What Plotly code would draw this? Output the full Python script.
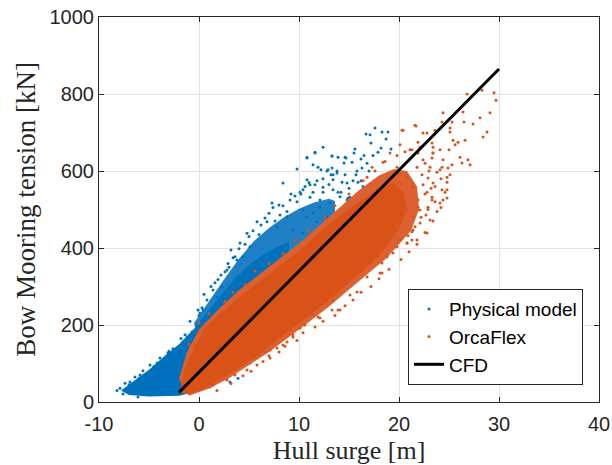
import plotly.graph_objects as go

# ---------------- data ----------------
# Physical model cloud: outline of the speckled (medium density) zone
phys_mid_x = [-0.5, 1.0, 2.5, 4.0, 5.5, 7.0, 8.5, 10.0, 11.5, 13.0, 13.6, 13.6, 10.0, 5.0, 0.0]
phys_mid_y = [205, 262, 318, 372, 418, 452, 480, 502, 518, 528, 522, 470, 360, 250, 150]
# Physical model cloud: outline of the solid zone
phys_core_x = [-7.8, -6.5, -5.0, -3.5, -2.0, -0.5, 0.5, 2.0, 3.5, 5.0, 6.5, 8.0, 9.0,
               9.0, 5.0, 2.0, -1.0, -2.0, -5.0, -7.0]
phys_core_y = [30, 56, 84, 118, 150, 190, 225, 270, 318, 355, 385, 405, 415,
               330, 200, 80, 22, 16, 14, 18]

# Physical model: individual points
phys_x = [11.6, 13.3, 14.6, 10.8, 9.8, 8.4, 12.9, 13.8, 11.9, 10.1, 11.1, 12.4, 7.3, 9.1, 8.1,
          5.8, 6.8, 4.1, 5.1, 3.6, 2.8, 2.3, 1.8, 0.4, 7.8, 8.8, 9.4, 10.4, 11.4, 12.1, 13.4,
          14.1, 14.8,
          17.6, 18.3, 18.9, 17.1, 18.7, 16.7, 17.2, 19.2, 17.9, 15.6, 15.5, 14.7, 13.9, 13.3,
          12.4, 11.6, 10.8, 16.3, 16.2, 15.3, 14.5, 13.3, 12.2, 11.4, 13.4, 10.8, 11.6, 13.4,
          14.3, 15.9, 15.1, 13.9, 12.4, 11.1, 14.8, 10.4, 12.1, 13.1, 14.1, 10.8, 11.8, 12.8,
          10.4, 11.4, 12.1,
          -7.9, -7.4, -6.9, -7.6, -6.4, -5.6, -4.9, -3.9, -3.1, -2.2, -1.6, -0.7, -0.1, 0.1,
          0.8, 1.4, 2.6, 3.8, 4.4, -1.2, -5.9, -4.2, -7.1, -5.2, -6.1,
          3.1, 3.9, 1.1, 5.1,
          0.5, 1.2, 2.2, 3.0, 3.2, 4.6, 5.4, 6.2, 7.0, 7.6, 8.4, 9.2, 9.8, 10.6, 11.4, 12.4,
          13.0, 13.8, 14.6, 15.4, 16.2, 16.8, 17.4, -6.8, -7.3, -6.0, -4.5, -3.0, -1.8, -0.9,
          0.0, 1.6, 2.9, 4.0, 5.0, 6.0, 7.4, 8.8, 10.2, 11.8, 13.2, 15.8, 16.5, 18.2,
          -8.2, -7.0, -5.5, -4.0, -2.6, -1.4, 0.3, 1.9, 3.4, 4.8, 6.6, 8.0, 9.6, 11.0, 12.8,
          14.2, 15.0, 14.9, 15.7, 16.4, 17.0]
phys_y = [647, 639, 636, 636, 605, 569, 603, 595, 610, 545, 564, 558, 517, 525, 486,
          468, 468, 413, 403, 377, 343, 299, 273, 239, 455, 481, 447, 499, 491, 525, 551,
          533, 569,
          712, 701, 701, 694, 683, 696, 673, 657, 649, 657, 647, 634, 636, 639,
          662, 649, 634, 608, 631, 623, 621, 608, 603, 616, 590, 577, 564, 577,
          571, 571, 532, 545, 545, 532, 525, 551, 506, 517, 499, 481, 468, 481,
          439, 429, 447,
          36, 49, 52, 21, 65, 81, 96, 114, 127, 140, 156, 182, 239, 231,
          265, 291, 338, 369, 377, 169, 70, 101, 26, 23, 13,
          52, 62, 39, 101,
          280, 300, 330, 350, 395, 410, 445, 460, 490, 470, 510, 540, 520, 560, 545, 580,
          565, 600, 590, 575, 575, 620, 640, 40, 28, 62, 92, 132, 165, 210,
          225, 310, 360, 398, 430, 435, 505, 495, 540, 575, 590, 600, 640, 660,
          30, 45, 70, 100, 138, 175, 245, 318, 375, 438, 478, 512, 535, 570, 600,
          545, 555, 530, 590, 560, 600]

# OrcaFlex cloud: outline of the speckled (medium density) zone
orca_mid_x = [-2.0, -1.2, 0.0, 2.0, 4.0, 6.0, 8.0, 10.0, 12.0, 14.0, 16.0, 18.0, 19.5, 20.8,
              21.8, 22.0, 21.2, 20.0, 18.8, 17.0, 15.0, 13.0, 11.0, 9.0, 7.0, 5.0, 3.0, 1.0,
              -1.0]
orca_mid_y = [60, 130, 188, 242, 290, 330, 372, 412, 458, 505, 550, 588, 605, 600,
              560, 500, 445, 410, 375, 336, 292, 248, 208, 168, 130, 96, 62, 35, 16]
# OrcaFlex cloud: outline of the solid zone
orca_core_x = [-1.9, -1.5, -0.6, 0.5, 2.0, 4.0, 6.0, 8.0, 10.0, 12.0, 14.0, 16.0, 18.0, 19.5,
               20.5, 20.8, 20.0, 18.5, 17.0, 15.0, 13.0, 11.0, 9.0, 7.5, 6.0, 4.0, 2.0, 0.5,
               -1.0]
orca_core_y = [25, 85, 135, 190, 228, 272, 312, 352, 392, 440, 482, 520, 555, 570,
               545, 500, 450, 395, 355, 310, 265, 225, 185, 155, 122, 88, 56, 35, 20]

# OrcaFlex: individual points
orca_x = [26.8, 28.3, 29.5, 29.7, 29.1, 28.1, 28.8, 28.4, 27.4, 26.5, 26.4, 24.4, 24.3, 25.3,
          25.1, 25.1, 23.6, 22.8, 21.7, 20.4, 26.6, 25.9, 25.4, 25.6, 25.0, 24.1, 23.4, 23.4,
          24.4, 26.1, 26.9, 26.3, 27.1, 25.3, 24.9, 24.3, 23.8, 23.1, 22.4, 21.9, 21.3, 22.1,
          23.3, 25.1, 24.8, 24.3, 24.6, 24.8, 23.4, 22.9, 22.4, 23.3, 24.1, 22.9, 22.7, 21.9,
          22.1, 21.4, 21.3, 20.8, 21.3,
          20.3, 21.6, 22.4, 23.3, 21.9, 21.1, 20.1, 19.1, 17.3, 18.4, 19.8, 23.4, 24.1, 24.8,
          21.8, 24.8, 24.4, 23.3, 21.9,
          20.8, 20.1, 19.1, 18.3, 17.8, 17.1, 16.4, 21.4, 19.8,
          18.1, 16.8, 15.8, 15.1, 13.9, 13.3, 12.1, 11.3, 10.6, 10.1, 9.4, 9.1, 8.4, 7.4, 7.1,
          18.3, 18.8, 19.4,
          5.8, 4.8, 3.6, 2.8, 2.3, 1.4, 0.1, 7.8, 8.8, 9.4, 7.1, 6.6,
          14.1, 11.9, 13.4,
          16.8, 17.8, 18.8, 20.1, 20.8, 19.4, 21.4, 20.1, 20.8, 22.1, 23.1, 22.8, 21.8,
          1.8, 3.2, 4.4, 5.2, 6.4, 7.0, 8.0, 8.6, 9.8, 10.4, 11.6, 12.4, 13.6, 14.6, 15.4,
          16.2, 17.2, 18.0, 19.0, 20.2, 21.0, 21.8, 22.6, 23.4, 23.8, 24.2,
          -1.0, 0.0, 1.0, 2.6, 3.4, 4.6, 5.6, 7.0, 8.4, 9.6, 11.0, 12.6, 13.6, 15.0, 16.4,
          17.6, 18.6, 19.8, 20.6, 21.4, 22.6, 23.0, 24.2, 23.6, 22.8, 23.6,
          22.3, 22.6, 22.2, 21.6, 20.9, 22.9, 23.2]
orca_y = [800, 810, 803, 784, 751, 738, 701, 688, 722, 727, 753, 751, 727, 727,
          712, 701, 706, 699, 717, 706, 680, 675, 680, 668, 655, 655, 662, 647,
          629, 636, 629, 621, 616, 616, 608, 610, 597, 610, 629, 647, 655, 662,
          634, 590, 571, 551, 545, 530, 569, 582, 564, 532, 517, 506, 486, 506,
          465, 481, 442, 413, 421,
          706, 719, 699, 673, 675, 655, 668, 647, 610, 623, 610, 647, 603, 584,
          610, 551, 525, 525, 525,
          413, 421, 429, 335, 377, 361, 343, 447, 403,
          335, 325, 286, 278, 239, 239, 218, 226, 200, 192, 169, 187, 148, 153, 135,
          361, 377, 387,
          96, 83, 70, 57, 78, 44, 36, 140, 156, 174, 114, 130,
          239, 221, 265,
          584, 551, 525, 569, 584, 584, 558, 525, 499, 499, 473, 439, 421,
          30, 48, 68, 80, 105, 120, 130, 145, 160, 180, 195, 210, 225, 250, 265,
          285, 300, 320, 345, 370, 390, 410, 440, 470, 495, 505,
          150, 205, 230, 262, 285, 305, 340, 360, 385, 420, 445, 480, 510, 540, 575,
          600, 625, 640, 650, 640, 620, 600, 580, 560, 545, 520,
          590, 540, 480, 455, 432, 500, 555]

# CFD line
cfd_x = [-2.0, 30.0]
cfd_y = [25, 865]

x_ticks = [-10, 0, 10, 20, 30, 40]
y_ticks = [0, 200, 400, 600, 800, 1000]

BLUE = "#0072BD"
BLUE_MID = "#1F80C5"
ORANGE = "#D95319"
ORANGE_MID = "#DD6130"
AX = "#262626"


def area(xs, ys, color):
    return go.Scatter(x=xs, y=ys, mode="lines", fill="toself", fillcolor=color,
                      line=dict(width=0, color=color), showlegend=False, hoverinfo="skip")


fig = go.Figure()
fig.add_trace(area(phys_mid_x, phys_mid_y, BLUE_MID))
fig.add_trace(area(phys_core_x, phys_core_y, BLUE))
fig.add_trace(go.Scatter(x=phys_x, y=phys_y, mode="markers", name="Physical model",
                         marker=dict(color=BLUE, size=3)))
fig.add_trace(area(orca_mid_x, orca_mid_y, ORANGE_MID))
fig.add_trace(area(orca_core_x, orca_core_y, ORANGE))
fig.add_trace(go.Scatter(x=orca_x, y=orca_y, mode="markers", name="OrcaFlex",
                         marker=dict(color=ORANGE, size=3)))
fig.add_trace(go.Scatter(x=cfd_x, y=cfd_y, mode="lines", name="CFD",
                         line=dict(color="black", width=3)))

axis_common = dict(showgrid=True, gridcolor="#e3e3e3", gridwidth=1, zeroline=False,
                   showline=True, linecolor=AX, linewidth=1, mirror="ticks",
                   ticks="inside", ticklen=5, tickcolor=AX, automargin=False,
                   tickfont=dict(family="Liberation Sans, Arial", size=20, color=AX))

fig.update_xaxes(range=[-10, 40], tickvals=x_ticks, ticktext=[str(v) for v in x_ticks],
                 ticklabelstandoff=4,
                 title=dict(text="Hull surge [m]", standoff=6,
                            font=dict(family="Liberation Serif, Times New Roman", size=26, color=AX)),
                 **axis_common)
fig.update_yaxes(range=[0, 1000], tickvals=y_ticks, ticktext=[str(v) for v in y_ticks],
                 title=dict(text="Bow Mooring tension [kN]", standoff=6,
                            font=dict(family="Liberation Serif, Times New Roman", size=27, color=AX)),
                 **axis_common)

fig.update_layout(
    width=612, height=465,
    margin=dict(l=99, r=13, t=17, b=63),
    paper_bgcolor="white", plot_bgcolor="white",
    legend=dict(x=0.968, y=0.044, xanchor="right", yanchor="bottom",
                bgcolor="white", bordercolor=AX, borderwidth=1,
                font=dict(family="Liberation Sans, Arial", size=19, color="black"),
                itemsizing="trace", tracegroupgap=0),
)

fig.write_html("out.html")
